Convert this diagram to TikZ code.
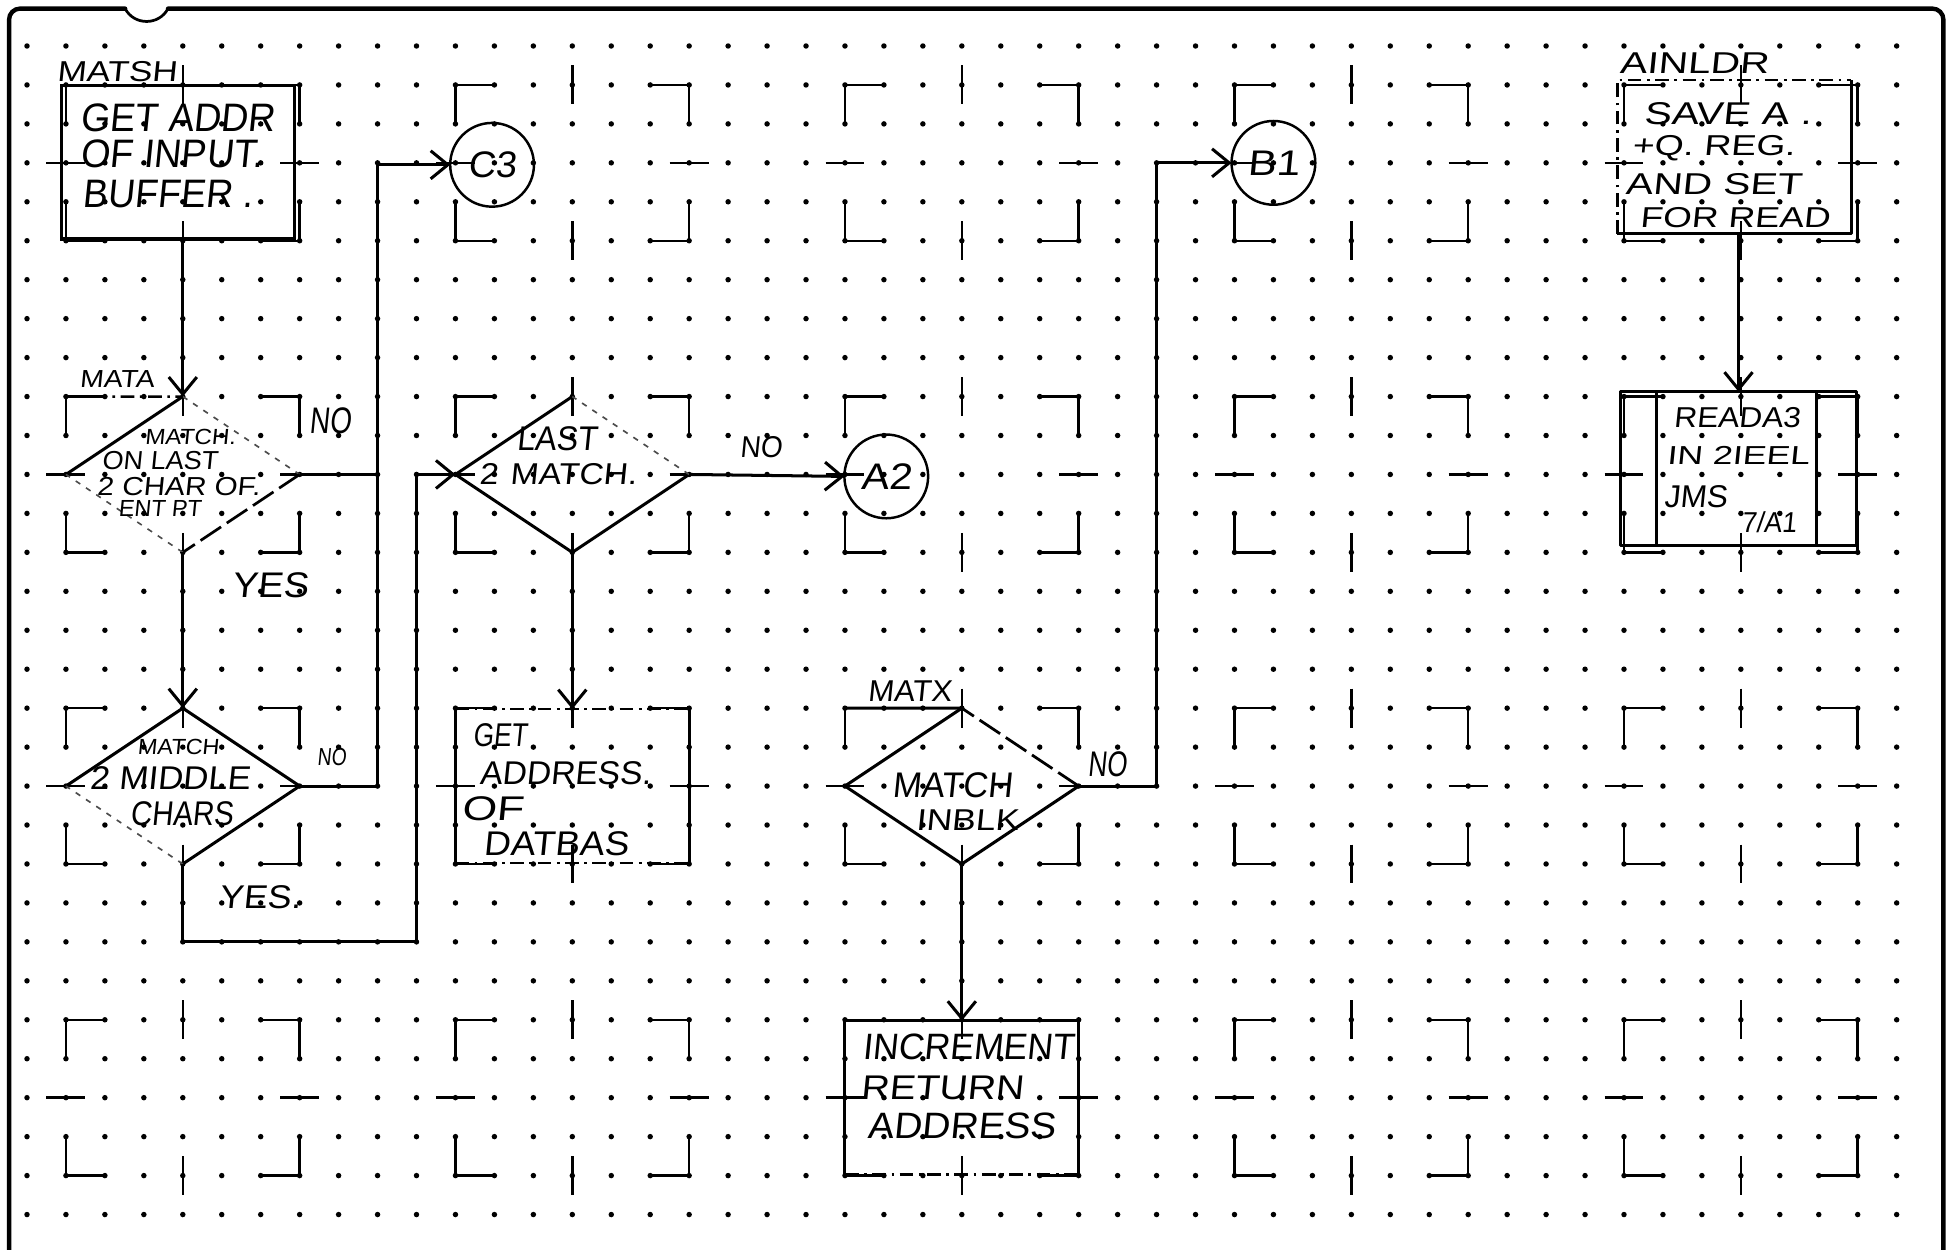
\documentclass[tikz,border=0pt]{standalone}
\usepackage{fontspec}
\setmainfont{Liberation Sans}
\usetikzlibrary{arrows.meta,shapes.geometric}
\newcommand\hw[2]{\fontspec{Liberation Sans}[FakeSlant=0.1,FakeStretch=#2]\fontsize{#1}{#1}\selectfont}
\begin{document}
\begin{tikzpicture}[x=0.5cm, y=-0.5cm,
  flow/.style={line width=1.1pt, line join=round},
  arr/.style={flow, -{Straight Barb[length=2.2mm,width=3.6mm]}},
  tmpl/.style={line width=0.9pt},
  faint/.style={line width=0.6pt, black!70, dash pattern=on 2pt off 2.5pt},
  halfdash/.style={line width=1pt, dash pattern=on 9pt off 2.5pt},
  dashdot/.style={line width=0.9pt, dash pattern=on 5pt off 2pt on 1pt off 2pt},
  border/.style={line width=1.6pt, line cap=round, rounded corners=4pt},
  boxn/.style={rectangle, draw, line width=1.1pt, minimum width=3cm, minimum height=1.975cm, inner sep=0pt, outer sep=0pt},
  boxe/.style={rectangle, minimum width=3cm, minimum height=1.975cm, inner sep=0pt, outer sep=0pt},
  dian/.style={diamond, minimum width=3cm, minimum height=2cm, inner sep=0pt, outer sep=0pt},
  conn/.style={circle, draw, line width=0.9pt, minimum size=1.075cm, inner sep=0pt, outer sep=0pt},
  hw/.style={inner sep=0pt, outer sep=0pt}
]
\fill[white] (-0.693,-1.181) rectangle (49.37,30.91);
\useasboundingbox (-0.693,-1.181) rectangle (49.37,30.91);

% sheet border with the notch at top left
\draw[border] (-0.46,31.5) -- (-0.46,-0.96) -- (2.52,-0.96);
\draw[line width=1pt] (2.52,-0.96) .. controls (2.75,-0.52) and (3.39,-0.52) .. (3.62,-0.96);
\draw[border] (3.62,-0.96) -- (49.2,-0.96) -- (49.2,31.5);

% dot grid
\foreach \i in {0,...,48}{\foreach \j in {0,...,30}{\fill (\i,\j) circle[radius=1pt];}}

% printed template marks
\foreach \cx in {4,14,24,34,44}{
 \foreach \ry in {3,11,19,27}{
  \draw[tmpl] (\cx-2,\ry-2) -- (\cx-3,\ry-2) -- (\cx-3,\ry-1);
  \draw[tmpl] (\cx+2,\ry-2) -- (\cx+3,\ry-2) -- (\cx+3,\ry-1);
  \draw[tmpl] (\cx-3,\ry+1) -- (\cx-3,\ry+2) -- (\cx-2,\ry+2);
  \draw[tmpl] (\cx+3,\ry+1) -- (\cx+3,\ry+2) -- (\cx+2,\ry+2);
  \draw[tmpl] (\cx,\ry-2.5) -- (\cx,\ry-1.5);
  \draw[tmpl] (\cx,\ry+1.5) -- (\cx,\ry+2.5);
  \draw[tmpl] (\cx-3.5,\ry) -- (\cx-2.5,\ry);
  \draw[tmpl] (\cx+2.5,\ry) -- (\cx+3.5,\ry);
 }}

% symbols
\node[boxn] (matsh) at (3.88,2.98) {};
\node[dian] (mata) at (4,11) {};
\node[dian] (mid) at (4,19) {};
\node[dian] (last) at (14,11) {};
\node[boxe] (getad) at (14,19) {};
\node[dian] (matx) at (24,19) {};
\node[boxe] (incr) at (24,27) {};
\node[boxe] (ainldr) at (43.83,2.85) {};
\node[boxe, minimum width=3.04cm] (reada) at (43.94,10.85) {};
\node[conn] (c3) at (11.94,3.05) {\hw{13.5}{1.02}C3};
\node[conn] (a2) at (22.06,11.05) {\hw{13.5}{1.12}A2};
\node[conn] (b1) at (32,3) {\hw{13}{1.2}B1};

\coordinate (j1) at (9,11);
\coordinate (j2) at (9,19);
\coordinate (k1) at (10,23);
\coordinate (j3) at (29,19);

% diamond outlines
\draw[flow] (mata.west) -- (mata.north);
\draw[faint] (mata.north) -- (mata.east);
\draw[halfdash] (mata.east) -- (mata.south);
\draw[faint] (mata.south) -- (mata.west);
\draw[flow] (mid.west) -- (mid.north) -- (mid.east) -- (mid.south);
\draw[faint] (mid.south) -- (mid.west);
\draw[flow] (last.north) -- (last.west) -- (last.south) -- (last.east);
\draw[faint] (last.east) -- (last.north);
\draw[flow] (matx.north) -- (matx.west) -- (matx.south) -- (matx.east);
\draw[halfdash] (matx.east) -- (matx.north);

% box outlines
\draw[flow] (getad.north west) -- (getad.south west);
\draw[flow] (getad.north east) -- (getad.south east);
\draw[dashdot] (getad.north west) -- (getad.north east);
\draw[dashdot] (getad.south west) -- (getad.south east);
\draw[flow] (incr.south west) -- (incr.north west) -- (incr.north east) -- (incr.south east);
\draw[dashdot] (incr.south west) -- (incr.south east);
\draw[flow] (ainldr.north east) -- (ainldr.south east) -- (ainldr.south west);
\draw[dashdot] (ainldr.south west) -- (ainldr.north west) -- (ainldr.north east);
\draw[flow] (reada.north west) rectangle (reada.south east);
\draw[flow] ([xshift=0.47cm]reada.north west) -- ([xshift=0.47cm]reada.south west);
\draw[flow] ([xshift=-0.515cm]reada.north east) -- ([xshift=-0.515cm]reada.south east);

% entry label underlines
\draw[dashdot] (1,9) -- (mata.north);
\draw[flow] (21,17) -- (matx.north);

% connectors
\draw[arr] (matsh.south -| mata.north) -- (mata.north);
\draw[flow] (mata.east) -- (j1);
\draw[arr] (mata.south) -- (mid.north);
\draw[arr] (mid.east) -- (j2) |- (c3.west);
\draw[arr] (mid.south) |- (k1) |- (last.west);
\draw[arr] (last.east) -- (a2.west);
\draw[arr] (last.south) -- (getad.north);
\draw[arr] (matx.east) -- (j3) |- (b1.west);
\draw[arr] (matx.south) -- (incr.north);
\draw[arr] (ainldr.south -| reada.north) -- (reada.north);

% texts
\node[hw] (tmatsh) at (2.31,0.65) {\hw{10.5}{1.22}MATSH};
\node[hw, anchor=west] (g1) at (1.37,1.84) {\hw{14.5}{0.95}GET ADDR};
\node[hw, anchor=west] (g2) at (1.37,2.78) {\hw{14.5}{0.95}OF INPUT.};
\node[hw, anchor=west] (g3) at (1.43,3.81) {\hw{14.5}{0.94}BUFFER .};

\node[hw] (tmata) at (2.31,8.55) {\hw{9}{1.15}MATA};
\node[hw] (m1) at (4.19,10.03) {\hw{8}{1.1}MATCH.};
\node[hw] (m2) at (3.41,10.63) {\hw{9.5}{1.04}ON LAST};
\node[hw] (m3) at (3.89,11.31) {\hw{9.5}{1.14}2 CHAR OF.};
\node[hw] (m4) at (3.41,11.88) {\hw{8.5}{1.0}ENT PT};
\node[hw] (no1) at (7.78,9.62) {\hw{13.5}{0.75}NO};
\node[hw] (yes1) at (6.24,13.85) {\hw{13}{1.07}YES};

\node[hw] (d1) at (3.88,18.0) {\hw{8}{1.07}MATCH};
\node[hw] (d2) at (3.67,18.8) {\hw{12}{1.06}2 MIDDLE};
\node[hw] (d3) at (3.97,19.72) {\hw{12.5}{0.86}CHARS};
\node[hw] (no2) at (7.82,18.25) {\hw{9}{0.78}NO};
\node[hw] (yes2) at (5.98,21.85) {\hw{12}{1.09}YES.};

\node[hw] (l1) at (13.6,10.08) {\hw{12.5}{0.94}LAST};
\node[hw] (l2) at (13.63,10.99) {\hw{11}{1.12}2\hspace{0.4em}MATCH.};
\node[hw] (no3) at (18.84,10.31) {\hw{11}{0.93}NO};

\node[hw] (ga1) at (12.14,17.7) {\hw{12}{0.8}GET};
\node[hw] (ga2) at (13.82,18.66) {\hw{12}{1.02}ADDRESS.};
\node[hw] (ga3) at (11.95,19.58) {\hw{12.5}{1.3}OF};
\node[hw] (ga4) at (13.58,20.48) {\hw{12.5}{1.08}DATBAS};

\node[hw] (tmatx) at (22.66,16.56) {\hw{11}{1.03}MATX};
\node[hw] (x1) at (23.75,18.98) {\hw{13}{0.97}MATCH};
\node[hw] (x2) at (24.14,19.88) {\hw{11}{1.18}INBLK};
\node[hw] (no4) at (27.73,18.43) {\hw{13}{0.73}NO};

\node[hw] (i1) at (24.16,25.7) {\hw{13.4}{0.97}INCREMENT};
\node[hw] (i2) at (23.49,26.75) {\hw{12.5}{1.14}RETURN};
\node[hw] (i3) at (23.99,27.72) {\hw{13.4}{1.06}ADDRESS};

\node[hw] (ain) at (42.8,0.44) {\hw{11}{1.35}AINLDR};
\node[hw] (s1) at (43.66,1.75) {\hw{11.5}{1.3}SAVE A .};
\node[hw] (s2) at (43.3,2.62) {\hw{10.5}{1.3}+Q. REG.};
\node[hw] (s3) at (43.3,3.54) {\hw{11}{1.35}AND SET};
\node[hw] (s4) at (43.85,4.4) {\hw{10.5}{1.28}FOR READ};

\node[hw] (r1) at (43.9,9.55) {\hw{10.5}{1.1}READA3};
\node[hw] (r2) at (43.93,10.5) {\hw{9.5}{1.37}IN 2IEEL};
\node[hw] (r3) at (42.84,11.57) {\hw{11.5}{1.0}JMS};
\node[hw] (r4) at (44.72,12.23) {\hw{10.5}{0.93}7/A1};
\end{tikzpicture}
\end{document}
